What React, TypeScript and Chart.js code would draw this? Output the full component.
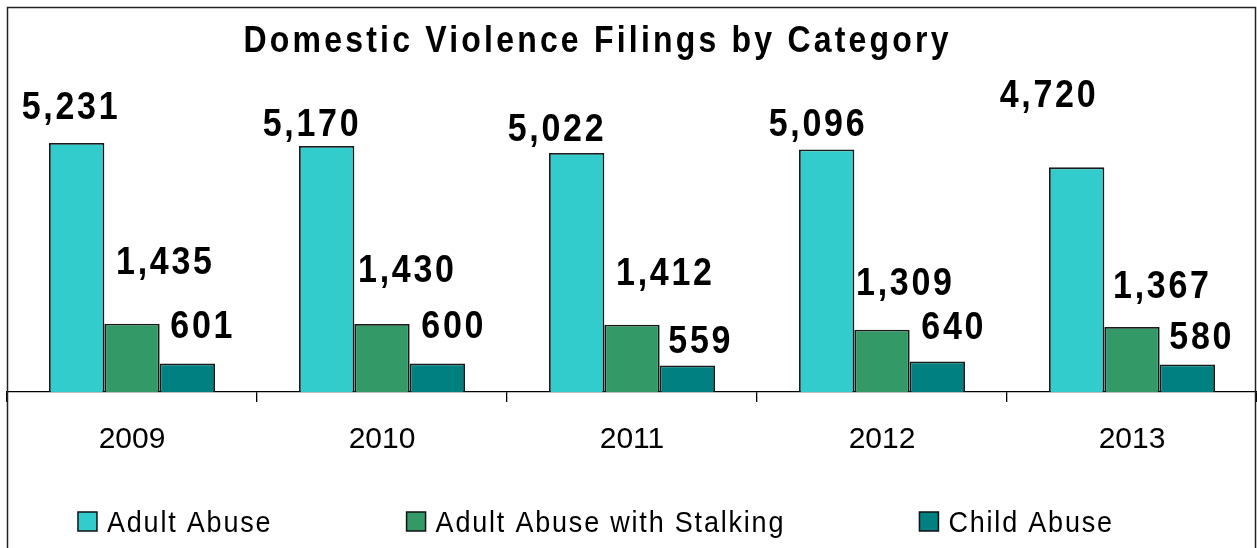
import { useEffect, useRef } from 'react';
import { Chart, registerables } from 'chart.js';

Chart.register(...registerables);

const years = ['2009', '2010', '2011', '2012', '2013'];
const adultAbuse = [5231, 5170, 5022, 5096, 4720];
const adultAbuseStalking = [1435, 1430, 1412, 1309, 1367];
const childAbuse = [601, 600, 559, 640, 580];
const seriesNames = ['Adult Abuse', 'Adult Abuse with Stalking', 'Child Abuse'];
const seriesColors = ['#33CCCC', '#339966', '#008080'];
const titleText = 'Domestic Violence Filings by Category';
const yMax = 6000;

// data-label offsets relative to each bar's centre / top: [dx, dy]
const labelOffsets = [
  [[-7, -24], [-16, -10], [-21, -12], [-10, -13], [-29, -60]],
  [[32, -50], [24, -42], [32, -40], [22, -35], [29, -29]],
  [[14, -25], [15, -25], [12, -12], [15, -23], [13, -15]],
];

const W = 1257;
const H = 548;
const FONT = '"Liberation Sans", Arial, sans-serif';

function drawStretched(
  ctx: CanvasRenderingContext2D,
  text: string,
  x: number,
  y: number,
  sy: number,
  spacing: number,
  align: CanvasTextAlign,
) {
  ctx.save();
  (ctx as any).letterSpacing = `${spacing}px`;
  ctx.textAlign = align;
  ctx.textBaseline = 'alphabetic';
  ctx.translate(align === 'center' ? x + spacing / 2 : x, y);
  ctx.scale(1, sy);
  ctx.fillText(text, 0, 0);
  ctx.restore();
}

const decorPlugin = {
  id: 'decor',
  afterDraw(chart: any) {
    const ctx = chart.ctx as CanvasRenderingContext2D;
    ctx.save();

    // outer frame
    ctx.strokeStyle = '#222';
    ctx.lineWidth = 1.5;
    ctx.beginPath();
    ctx.moveTo(7.5, H + 10);
    ctx.lineTo(7.5, 7.5);
    ctx.lineTo(1255.5, 7.5);
    ctx.lineTo(1255.5, H + 10);
    ctx.stroke();

    // title
    ctx.fillStyle = '#000';
    ctx.font = `bold 32px ${FONT}`;
    drawStretched(ctx, titleText, 596, 52, 1.13, 3.2, 'center');

    // data labels
    ctx.font = `bold 34px ${FONT}`;
    chart.data.datasets.forEach((ds: any, di: number) => {
      const meta = chart.getDatasetMeta(di);
      meta.data.forEach((bar: any, i: number) => {
        const v = ds.data[i] as number;
        const [dx, dy] = labelOffsets[di][i];
        drawStretched(ctx, v.toLocaleString('en-US'), bar.x + dx, bar.y + dy, 1.16, 2.7, 'center');
      });
    });

    // legend
    ctx.font = `27px ${FONT}`;
    const box = 19;
    const gapBoxText = 10;
    const gapItems = 136;
    const sp = 1.8;
    ctx.save();
    (ctx as any).letterSpacing = `${sp}px`;
    const widths = seriesNames.map((n) => box + gapBoxText + ctx.measureText(n).width - sp);
    ctx.restore();
    const total = widths.reduce((a, b) => a + b, 0) + gapItems * (seriesNames.length - 1);
    let x = 595 - total / 2;
    const boxTop = 512;
    seriesNames.forEach((n, i) => {
      ctx.fillStyle = seriesColors[i];
      ctx.fillRect(x, boxTop, box, box);
      ctx.strokeStyle = '#111';
      ctx.lineWidth = 1.5;
      ctx.strokeRect(x, boxTop, box, box);
      ctx.fillStyle = '#000';
      drawStretched(ctx, n, x + box + gapBoxText, 532, 1.12, sp, 'left');
      x += widths[i] + gapItems;
    });

    ctx.restore();
  },
};

export default function App() {
  const ref = useRef<HTMLCanvasElement | null>(null);

  useEffect(() => {
    document.body.style.overflow = 'hidden';
    const canvas = ref.current;
    if (!canvas) return;
    const chart = new Chart(canvas, {
      type: 'bar',
      data: {
        labels: years,
        datasets: [
          { label: seriesNames[0], data: adultAbuse, backgroundColor: seriesColors[0] },
          { label: seriesNames[1], data: adultAbuseStalking, backgroundColor: seriesColors[1] },
          { label: seriesNames[2], data: childAbuse, backgroundColor: seriesColors[2] },
        ].map((d) => ({
          ...d,
          borderColor: '#1a1a1a',
          borderWidth: 1.8,
          categoryPercentage: 0.664,
          barPercentage: 1,
        })),
      },
      options: {
        responsive: false,
        animation: false,
        devicePixelRatio: 1,
        layout: { padding: { top: 106.4, left: 7, right: 0, bottom: 96 } },
        plugins: {
          legend: { display: false },
          title: { display: false },
          tooltip: { enabled: false },
        },
        scales: {
          x: {
            offset: true,
            border: { display: true, color: '#000', width: 1.3 },
            grid: {
              offset: true,
              drawOnChartArea: false,
              drawTicks: true,
              tickLength: 10,
              color: '#000',
              lineWidth: 1.3,
            },
            ticks: {
              color: '#000',
              padding: 20,
              font: { family: FONT, size: 30 },
            },
            afterFit: (scale: any) => {
              scale.height = 60;
            },
          },
          y: {
            display: false,
            min: 0,
            max: yMax,
          },
        },
      },
      plugins: [decorPlugin],
    });
    return () => chart.destroy();
  }, []);

  return (
    <div style={{ position: 'absolute', left: 0, top: 0, width: W, height: H }}>
      <canvas ref={ref} width={W} height={H} style={{ display: 'block' }} />
    </div>
  );
}
